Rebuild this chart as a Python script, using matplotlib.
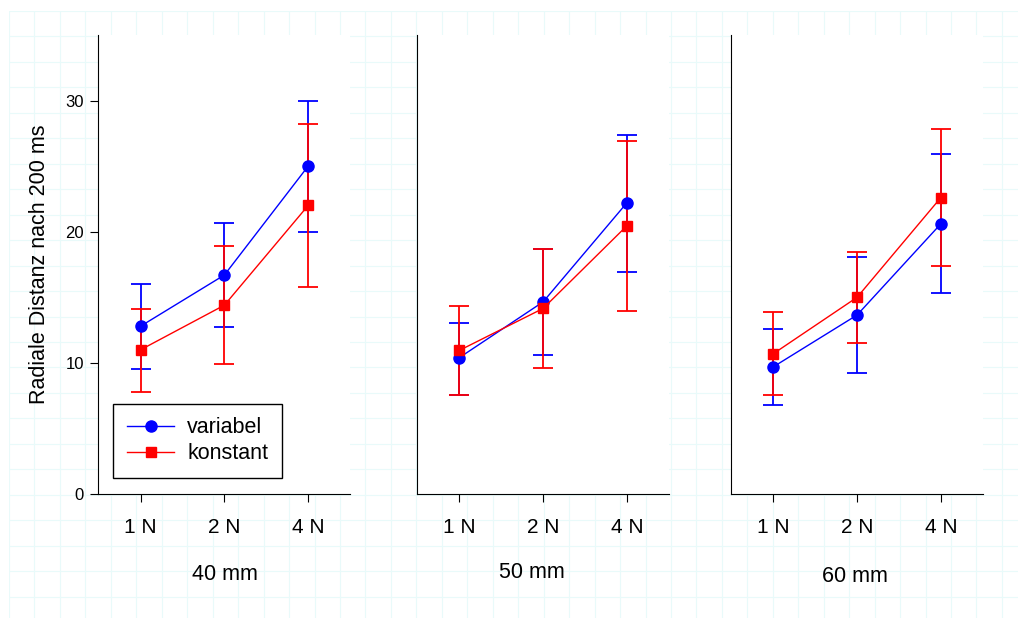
import numpy as np
import matplotlib
matplotlib.use("Agg")
import matplotlib.pyplot as plt

plt.rcParams['font.family'] = ['Liberation Sans', 'DejaVu Sans']

# data
forces = ["1 N", "2 N", "4 N"]
panels = ["40 mm", "50 mm", "60 mm"]

var_mean = [[12.8, 16.7, 25.0], [10.4, 14.65, 22.2], [9.7, 13.65, 20.6]]
var_lo = [[9.5, 12.7, 19.95], [7.55, 10.6, 16.9], [6.8, 9.2, 15.3]]
var_hi = [[16.0, 20.7, 30.0], [13.05, 18.7, 27.4], [12.6, 18.05, 25.95]]

kon_mean = [[11.0, 14.4, 22.0], [10.95, 14.15, 20.45], [10.7, 15.0, 22.6]]
kon_lo = [[7.8, 9.9, 15.8], [7.55, 9.6, 13.95], [7.55, 11.5, 17.35]]
kon_hi = [[14.1, 18.9, 28.2], [14.3, 18.65, 26.95], [13.9, 18.45, 27.85]]

W, H = 1018, 618
fig = plt.figure(figsize=(W / 100, H / 100), dpi=100)

# faint background grid paper
gx0, gy0 = 9, 11
bg = fig.add_axes([gx0 / W, 0, 1 - gx0 / W, 1 - gy0 / H], zorder=-5)
bg.set_xlim(gx0, W)
bg.set_ylim(H, gy0)
bg.set_xticks(np.arange(gx0, W, 25.46))
bg.set_yticks(np.arange(gy0, H, 25.46))
bg.tick_params(length=0, labelbottom=False, labelleft=False)
bg.grid(True, color="#e9fafa", lw=0.8)
for s in bg.spines.values():
    s.set_visible(False)

lefts = [98, 416.7, 730.7]
label_x = [225, 532, 855]
label_y = [575, 573, 576]

for i in range(3):
    ax = fig.add_axes([lefts[i] / W, 1 - 494 / H, 252 / W, 459 / H])
    ax.set_facecolor("white")
    x = np.arange(1, 4)

    vm = np.array(var_mean[i])
    km = np.array(kon_mean[i])
    e1 = ax.errorbar(x, vm, yerr=[vm - np.array(var_lo[i]), np.array(var_hi[i]) - vm],
                     color="blue", marker="o", ms=8, lw=1, elinewidth=1.3,
                     capsize=7, capthick=1.3)
    e2 = ax.errorbar(x, km, yerr=[km - np.array(kon_lo[i]), np.array(kon_hi[i]) - km],
                     color="red", marker="s", ms=7.5, lw=1, elinewidth=1.3,
                     capsize=7, capthick=1.3)

    ax.set_xlim(0.49, 3.5)
    ax.set_ylim(0, 35)
    ax.set_xticks(x)
    ax.set_xticklabels(forces, fontsize=15)
    ax.spines["top"].set_visible(False)
    ax.spines["right"].set_visible(False)
    ax.tick_params(axis="x", direction="out", length=6, pad=11)
    if i == 0:
        ax.set_yticks([0, 10, 20, 30])
        ax.tick_params(axis="y", direction="out", length=6, pad=4, labelsize=12)
        ax.set_ylabel("Radiale Distanz nach 200 ms", fontsize=15.5, labelpad=11)
        leg = ax.legend([e1.lines[0], e2.lines[0]], ["variabel", "konstant"],
                        loc="lower left", bbox_to_anchor=(0.06, 0.035),
                        borderaxespad=0, fontsize=15.5, handlelength=2.2,
                        handletextpad=0.6, labelspacing=0.22, borderpad=0.64,
                        fancybox=False, framealpha=1, edgecolor="black")
        leg.get_frame().set_linewidth(1)
    else:
        ax.set_yticks([])

    fig.text(label_x[i] / W, 1 - label_y[i] / H, panels[i], fontsize=15.5,
             ha="center", va="center")

fig.savefig("out.png", dpi=100)
